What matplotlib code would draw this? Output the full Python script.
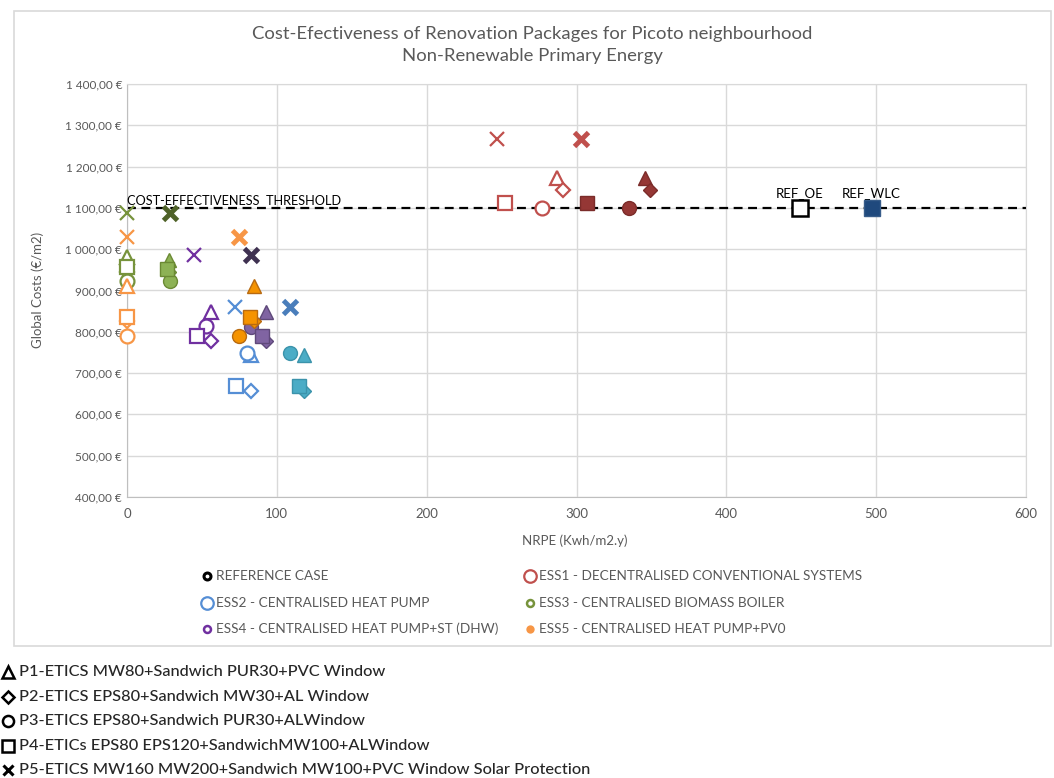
import matplotlib.pyplot as plt
from matplotlib.lines import Line2D
from matplotlib.patches import Rectangle
from matplotlib.ticker import FuncFormatter, MultipleLocator

plt.rcParams['font.family'] = ['Lato', 'DejaVu Sans']

W, H = 1054, 778

# package order: P1 triangle, P2 diamond, P3 circle, P4 square, P5 cross
markers = ['^', 'D', 'o', 's', 'x']
sizes = [10, 7.5, 10, 10, 10]

# ESS1 - decentralised conventional systems
ess1_oe_x = [287, 291, 277, 252, 247]
ess1_wlc_x = [346, 349, 335, 307, 303]
ess1_y = [1173, 1144, 1100, 1113, 1267]
# ESS2 - centralised heat pump
ess2_oe_x = [83, 83, 80, 73, 72]
ess2_wlc_x = [118, 118, 109, 115, 109]
ess2_y = [743, 657, 749, 668, 861]
# ESS3 - centralised biomass boiler
ess3_oe_x = [0, 0, 0, 0, 0]
ess3_wlc_x = [28, 28, 29, 27, 29]
ess3_oe_y = [982, 946, 924, 956, 1088]
ess3_wlc_y = [975, 946, 924, 953, 1088]
# ESS4 - centralised heat pump + ST (DHW)
ess4_oe_x = [56, 56, 53, 47, 45]
ess4_wlc_x = [93, 93, 83, 90, 83]
ess4_oe_y = [849, 777, 813, 789, 985]
ess4_wlc_y = [849, 777, 811, 789, 985]
# ESS5 - centralised heat pump + PV0
ess5_oe_x = [0, 0, 0, 0, 0]
ess5_wlc_x = [85, 85, 75, 82, 75]
ess5_oe_y = [910, 825, 791, 835, 1030]
ess5_wlc_y = [912, 825, 791, 835, 1030]

ref_x = [449, 497]
ref_y = [1100, 1100]
ref_labels = ['REF_OE', 'REF_WLC']
threshold = 1100

# (x, y, colour, filled, fill colour, bold-cross colour)
series = [
    (ess1_oe_x, ess1_y, '#C0504D', False, None, None),
    (ess1_wlc_x, ess1_y, '#7B2C2A', True, '#953735', '#C0504D'),
    (ess2_oe_x, ess2_y, '#558ED5', False, None, None),
    (ess2_wlc_x, ess2_y, '#3B93AB', True, '#4BACC6', '#4A7EBB'),
    (ess3_oe_x, ess3_oe_y, '#77933C', False, None, None),
    (ess3_wlc_x, ess3_wlc_y, '#6B8A34', True, '#8DB255', '#4F6228'),
    (ess4_oe_x, ess4_oe_y, '#7030A0', False, None, None),
    (ess4_wlc_x, ess4_wlc_y, '#5F497A', True, '#8064A2', '#3F3151'),
    (ess5_oe_x, ess5_oe_y, '#F79646', False, None, None),
    (ess5_wlc_x, ess5_wlc_y, '#B86A10', True, '#F59300', '#F79646'),
]

fig = plt.figure(figsize=(W / 100, H / 100), dpi=100)
ax = fig.add_axes([127 / W, 1 - 497 / H, (1026 - 127) / W, (497 - 84) / H])

# chart area frame
fig.add_artist(Rectangle((14 / W, 1 - 646 / H), (1051 - 14) / W, (646 - 11) / H,
                         transform=fig.transFigure, fill=False,
                         edgecolor='#D9D9D9', linewidth=1.2))

for xs, ys, col, filled, fill, xcol in series:
    for i in range(5):
        if markers[i] == 'x':
            ax.plot(xs[i], ys[i], 'x', color=xcol if filled else col,
                    markersize=10, markeredgewidth=3.5 if filled else 1.6,
                    zorder=3, clip_on=False)
        else:
            ax.plot(xs[i], ys[i], markers[i], markersize=sizes[i],
                    markerfacecolor=fill if filled else 'white',
                    markeredgecolor=col, markeredgewidth=1.0 if filled else 1.6,
                    zorder=3, clip_on=False)

ax.plot(ref_x[0], ref_y[0], 's', markersize=11, markerfacecolor='white',
        markeredgecolor='black', markeredgewidth=1.8, zorder=4)
ax.plot(ref_x[1], ref_y[1], 's', markersize=11, markerfacecolor='#1F497D',
        markeredgecolor='#385D8A', markeredgewidth=1.0, zorder=4)
for x, y, lab in zip(ref_x, ref_y, ref_labels):
    ax.text(x, y + 22, lab, ha='center', va='bottom', fontsize=9.5, color='black')

ax.axhline(threshold, color='black', linestyle=(0, (4, 2.5)), linewidth=1.6, zorder=2)
ax.text(0, threshold + 3, 'COST-EFFECTIVENESS  THRESHOLD', ha='left', va='bottom',
        fontsize=9.2, color='black')

ax.set_xlim(0, 600)
ax.set_ylim(400, 1400)
ax.xaxis.set_major_locator(MultipleLocator(100))
ax.yaxis.set_major_locator(MultipleLocator(100))
ax.yaxis.set_major_formatter(FuncFormatter(
    lambda v, p: f"{int(v):,}".replace(',', ' ') + ',00 €'))
ax.grid(True, color='#D9D9D9', linewidth=1.0)
ax.set_axisbelow(True)
for s in ax.spines.values():
    s.set_color('#D9D9D9')
ax.spines['left'].set_color('#BFBFBF')
ax.spines['bottom'].set_color('#BFBFBF')
ax.tick_params(length=0, labelsize=8.5, labelcolor='#595959')
ax.tick_params(axis='x', pad=8, labelsize=9.5)

fig.text(575 / W, 1 - 541 / H, 'NRPE (Kwh/m2.y)', ha='center', va='center',
         fontsize=9.5, color='#595959')
fig.text(38 / W, 1 - 290 / H, 'Global Costs (€/m2)', ha='center', va='center',
         rotation=90, fontsize=9.5, color='#595959')
fig.text(532 / W, 1 - 45 / H,
         'Cost-Efectiveness of Renovation Packages for Picoto neighbourhood\n'
         'Non-Renewable Primary Energy',
         ha='center', va='center', fontsize=13.3, color='#595959', linespacing=1.4)

# energy system legend inside chart area
ess_labels = ['REFERENCE CASE', 'ESS1 - DECENTRALISED CONVENTIONAL SYSTEMS',
              'ESS2 - CENTRALISED HEAT PUMP', 'ESS3 - CENTRALISED BIOMASS BOILER',
              'ESS4 - CENTRALISED HEAT PUMP+ST (DHW)', 'ESS5 - CENTRALISED HEAT PUMP+PV0']
ess_colors = ['black', '#C0504D', '#558ED5', '#77933C', '#7030A0', '#F79646']
ess_msize = [5, 9, 9, 5, 5, 6]
ess_mew = [2.2, 1.6, 1.6, 1.8, 1.8, 0]
ess_face = ['white', 'white', 'white', 'white', 'white', '#F79646']
col_x = [207, 530]
row_y = [576, 603, 629]
for k, lab in enumerate(ess_labels):
    mx = col_x[k % 2]
    my = row_y[k // 2]
    fig.add_artist(Line2D([mx / W], [1 - my / H], transform=fig.transFigure,
                          marker='o', markersize=ess_msize[k],
                          markerfacecolor=ess_face[k], markeredgecolor=ess_colors[k],
                          markeredgewidth=ess_mew[k], linestyle='none'))
    fig.text((mx + 9) / W, 1 - my / H, lab, ha='left', va='center',
             fontsize=9.8, color='#595959')

# package legend below chart
pkg_labels = ['P1-ETICS MW80+Sandwich PUR30+PVC Window',
              'P2-ETICS EPS80+Sandwich MW30+AL Window',
              'P3-ETICS EPS80+Sandwich PUR30+ALWindow',
              'P4-ETICs EPS80 EPS120+SandwichMW100+ALWindow',
              'P5-ETICS MW160 MW200+Sandwich MW100+PVC Window Solar Protection']
pkg_y = [672, 697, 721, 746, 770]
pkg_ms = [8, 6.5, 8, 8, 7]
for k, lab in enumerate(pkg_labels):
    fig.add_artist(Line2D([8 / W], [1 - pkg_y[k] / H], transform=fig.transFigure,
                          marker=markers[k], markersize=pkg_ms[k],
                          markerfacecolor='white', markeredgecolor='black',
                          markeredgewidth=2.2 if k == 4 else 1.8, linestyle='none'))
    fig.text(19 / W, 1 - pkg_y[k] / H, lab, ha='left', va='center',
             fontsize=11.8, color='#262626', fontweight='medium')

fig.savefig('out.png', dpi=100)
